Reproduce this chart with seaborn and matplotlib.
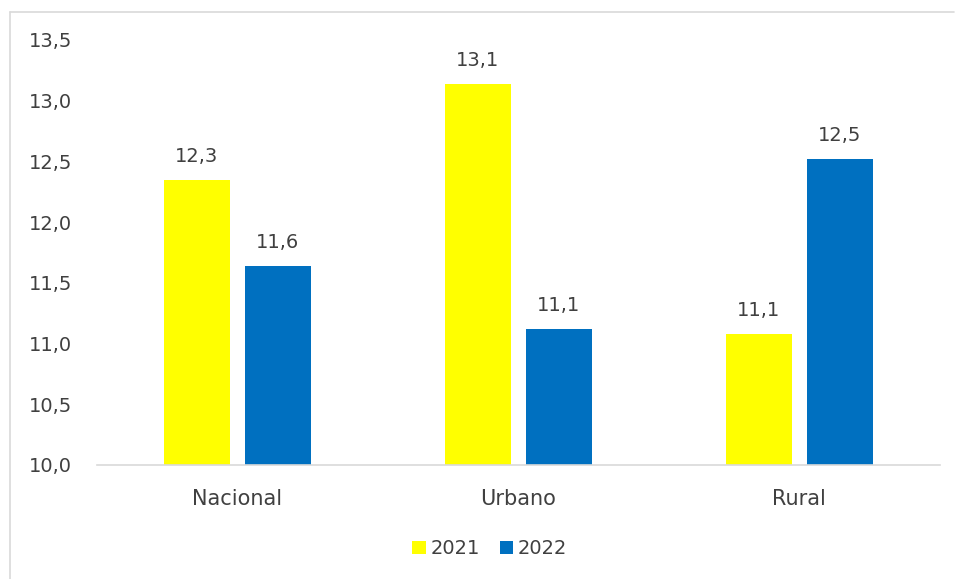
import matplotlib
matplotlib.use("Agg")
import matplotlib.pyplot as plt
import seaborn as sns
import pandas as pd
from matplotlib.lines import Line2D
from matplotlib.patches import Patch

categories = ["Nacional", "Urbano", "Rural"]
years = ["2021", "2022"]
values_2021 = [12.35, 13.14, 11.08]
values_2022 = [11.64, 11.12, 12.52]
yticks = [10.0, 10.5, 11.0, 11.5, 12.0, 12.5, 13.0, 13.5]

colors = {"2021": "#FFFF00", "2022": "#0070C0"}
text_color = "#404040"

df = pd.DataFrame({
    "cat": categories * 2,
    "year": ["2021"] * 3 + ["2022"] * 3,
    "val": values_2021 + values_2022,
})

sns.set_theme(style="white")
plt.rcParams["font.family"] = ["DejaVu Sans"]

fig = plt.figure(figsize=(9.55, 5.79), dpi=100)
ax = fig.add_axes([0.1016, 0.197, 0.8824, 0.734])

sns.barplot(data=df, x="cat", y="val", hue="year", order=categories,
            hue_order=years, palette=colors, width=0.577, gap=0.185,
            ax=ax, legend=False, errorbar=None, saturation=1, linewidth=0)

ax.set_ylim(10.0, 13.5)
ax.set_yticks(yticks)
ax.set_yticklabels([f"{t:.1f}".replace(".", ",") for t in yticks],
                   color=text_color, fontsize=14)
ax.tick_params(axis="y", length=0, pad=18)
ax.tick_params(axis="x", length=0, pad=17, labelsize=15, labelcolor=text_color)
ax.set_xlabel("")
ax.set_ylabel("")
for s in ["top", "right", "left"]:
    ax.spines[s].set_visible(False)
ax.spines["bottom"].set_color("#D9D9D9")
ax.spines["bottom"].set_linewidth(1.2)

for cont in ax.containers:
    labels = [f"{b.get_height():.1f}".replace(".", ",") for b in cont]
    ax.bar_label(cont, labels=labels, padding=10, fontsize=14, color=text_color)

handles = [Patch(facecolor=colors[y], edgecolor="none", label=y) for y in years]
fig.legend(handles=handles, loc="center", bbox_to_anchor=(0.513, 0.052),
           ncol=2, frameon=False, fontsize=14, handlelength=0.7,
           handleheight=0.7, handletextpad=0.25, columnspacing=1.0,
           labelcolor=text_color)

# chart frame (left and top border)
fig.add_artist(Line2D([0.0105, 0.0105], [0.0, 0.979], color="#D9D9D9", lw=1.2,
                      transform=fig.transFigure))
fig.add_artist(Line2D([0.0105, 0.999], [0.979, 0.979], color="#D9D9D9", lw=1.2,
                      transform=fig.transFigure))

fig.savefig("out.png", dpi=100)
